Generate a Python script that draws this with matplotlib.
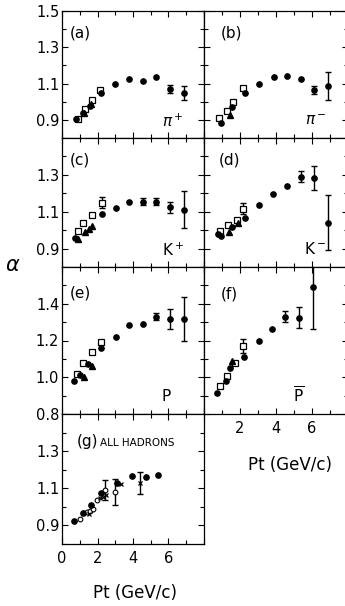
import numpy as np
import matplotlib
matplotlib.use("Agg")
import matplotlib.pyplot as plt
from matplotlib.ticker import FixedLocator, FuncFormatter, NullFormatter

# ---- (a) pi+ ----
pip_circ_pt = [0.8, 1.2, 1.55, 2.2, 3.0, 3.8, 4.55, 5.3, 6.1, 6.85]
pip_circ_a = [0.905, 0.94, 0.975, 1.05, 1.097, 1.125, 1.115, 1.135, 1.07, 1.047]
pip_circ_e = [0, 0, 0, 0, 0, 0, 0, 0, 0.022, 0.04]
pip_sq_pt = [0.9, 1.3, 1.68, 2.13]
pip_sq_a = [0.905, 0.96, 1.01, 1.065]
pip_tri_pt = [1.25, 1.65]
pip_tri_a = [0.94, 0.985]

# ---- (b) pi- ----
pim_circ_pt = [0.95, 1.55, 2.28, 3.05, 3.9, 4.6, 5.4, 6.1, 6.9]
pim_circ_a = [0.88, 0.97, 1.047, 1.097, 1.135, 1.14, 1.125, 1.065, 1.085]
pim_circ_e = [0, 0, 0, 0, 0, 0, 0, 0.02, 0.077]
pim_sq_pt = [0.85, 1.3, 1.6, 2.18]
pim_sq_a = [0.91, 0.95, 0.997, 1.074]
pim_tri_pt = [1.45]
pim_tri_a = [0.925]

# ---- (c) K+ ----
kp_circ_pt = [0.73, 2.25, 3.03, 3.8, 4.55, 5.3, 6.1, 6.85]
kp_circ_a = [0.96, 1.09, 1.12, 1.155, 1.155, 1.155, 1.125, 1.11]
kp_circ_e = [0, 0, 0, 0, 0.02, 0.02, 0.03, 0.1]
kp_sq_pt = [0.9, 1.18, 1.68, 2.25]
kp_sq_a = [0.995, 1.04, 1.08, 1.15]
kp_sq_e = [0, 0, 0, 0.03]
kp_tri_pt = [0.9, 1.3, 1.5, 1.68]
kp_tri_a = [0.95, 0.99, 1.005, 1.02]

# ---- (d) K- ----
km_circ_pt = [0.78, 0.95, 1.55, 2.3, 3.05, 3.85, 4.6, 5.4, 6.1, 6.9]
km_circ_a = [0.98, 0.97, 1.015, 1.068, 1.135, 1.195, 1.24, 1.29, 1.285, 1.04]
km_circ_e = [0, 0, 0, 0, 0, 0, 0, 0.03, 0.065, 0.15]
km_sq_pt = [0.9, 1.33, 1.82, 2.18]
km_sq_a = [0.998, 1.03, 1.055, 1.115]
km_sq_e = [0, 0, 0, 0.03]
km_tri_pt = [1.4, 1.9]
km_tri_a = [0.99, 1.04]

# ---- (e) p ----
p_circ_pt = [0.67, 1.0, 1.46, 2.2, 3.03, 3.78, 4.55, 5.3, 6.07, 6.85]
p_circ_a = [0.98, 1.01, 1.07, 1.16, 1.22, 1.285, 1.29, 1.33, 1.315, 1.315]
p_circ_e = [0, 0, 0, 0, 0, 0, 0, 0.02, 0.055, 0.12]
p_sq_pt = [0.84, 1.18, 1.68, 2.2]
p_sq_a = [1.02, 1.08, 1.135, 1.19]
p_tri_pt = [1.23, 1.7]
p_tri_a = [1.0, 1.06]

# ---- (f) pbar ----
pb_circ_pt = [0.7, 1.2, 1.45, 2.2, 3.05, 3.8, 4.5, 5.3, 6.05]
pb_circ_a = [0.915, 0.98, 1.05, 1.11, 1.195, 1.26, 1.33, 1.325, 1.49]
pb_circ_e = [0, 0, 0, 0, 0, 0, 0.03, 0.055, 0.23]
pb_sq_pt = [0.9, 1.28, 1.72, 2.15]
pb_sq_a = [0.955, 1.005, 1.08, 1.17]
pb_sq_e = [0, 0, 0, 0.04]
pb_tri_pt = [1.55]
pb_tri_a = [1.09]

# ---- (g) all hadrons ----
all_circ_pt = [0.67, 1.18, 1.63, 2.19, 3.09, 3.93, 4.72, 5.39]
all_circ_a = [0.925, 0.965, 1.012, 1.074, 1.128, 1.166, 1.16, 1.171]
all_open_pt = [1.0, 1.4, 1.55, 1.74, 1.97, 2.42, 2.98]
all_open_a = [0.935, 0.97, 0.978, 0.99, 1.035, 1.09, 1.08]
all_open_e = [0, 0, 0, 0, 0, 0.055, 0.07]
all_x_pt = [1.5, 2.13, 2.3, 2.5, 3.3, 4.38]
all_x_a = [0.96, 1.047, 1.055, 1.063, 1.125, 1.128]
all_x_e = [0, 0, 0, 0, 0, 0.06]

plt.rcParams["font.family"] = ["DejaVu Sans"]
plt.rcParams["mathtext.fontset"] = "dejavusans"

W, H = 345.0, 606.0
fig = plt.figure(figsize=(W / 100, H / 100), dpi=100)


def px_axes(x0, x1, y0, y1):
    return fig.add_axes([x0 / W, 1 - y1 / H, (x1 - x0) / W, (y1 - y0) / H])


def style(ax, ylim, ymajor, yminor, left_labels, xlabels):
    ax.set_xlim(0, 8)
    ax.set_ylim(*ylim)
    for s in ax.spines.values():
        s.set_linewidth(0.9)
    ax.xaxis.set_major_locator(FixedLocator([0, 2, 4, 6, 8]))
    ax.xaxis.set_minor_locator(FixedLocator([1, 3, 5, 7]))
    ax.yaxis.set_major_locator(FixedLocator(ymajor))
    ax.yaxis.set_minor_locator(FixedLocator(yminor))
    ax.tick_params(which="both", direction="in", top=True, right=True,
                   width=0.8, labelsize=10.5, colors="black")
    ax.tick_params(which="major", length=4.0)
    ax.tick_params(which="minor", length=3.2)
    ax.tick_params(axis="y", pad=2)
    ax.tick_params(axis="x", pad=5)
    if left_labels:
        ax.yaxis.set_major_formatter(FuncFormatter(lambda v, p: f"{v:.1f}"))
    else:
        ax.yaxis.set_major_formatter(NullFormatter())
    if xlabels is None:
        ax.xaxis.set_major_formatter(NullFormatter())
    else:
        ax.xaxis.set_major_formatter(
            FuncFormatter(lambda v, p: f"{int(v)}" if int(v) in xlabels else ""))


def draw_series(ax, pt, a, err, **kw):
    pt, a = np.asarray(pt), np.asarray(a)
    ax.plot(pt, a, linestyle="none", zorder=3, **kw)
    if err is not None:
        err = np.asarray(err)
        m = err > 0
        ax.errorbar(pt[m], a[m], yerr=err[m], fmt="none", ecolor="black",
                    elinewidth=1.0, capsize=2.0, capthick=1.0, zorder=2)


CIRC = dict(marker="o", markersize=3.8, color="black")
SQ = dict(marker="s", markersize=4.6, markerfacecolor="white",
          markeredgecolor="black", markeredgewidth=0.9)
TRI = dict(marker="^", markersize=4.0, color="black")
OPEN = dict(marker="o", markersize=3.4, markerfacecolor="white",
            markeredgecolor="black", markeredgewidth=0.8)
XM = dict(marker="x", markersize=3.4, color="black", markeredgewidth=0.9)

LX0, LX1, RX0, RX1 = 62, 204, 204, 348
rows = [(11, 138), (138, 267), (267, 414), (414, 544)]

lim7 = (0.8, 1.5)
maj_a = [0.9, 1.1, 1.3, 1.5]
maj_c = [0.9, 1.1, 1.3]
min_7 = [0.8, 1.0, 1.2, 1.4]

# (a)
ax = px_axes(LX0, LX1, *rows[0])
style(ax, lim7, maj_a, min_7, True, None)
draw_series(ax, pip_sq_pt, pip_sq_a, None, **SQ)
draw_series(ax, pip_tri_pt, pip_tri_a, None, **TRI)
draw_series(ax, pip_circ_pt, pip_circ_a, pip_circ_e, **CIRC)
ax.text(0.127, 0.827, "(a)", transform=ax.transAxes, fontsize=11, ha="center", va="center")
ax.text(0.78, 0.13, r"$\pi^+$", transform=ax.transAxes, fontsize=11, ha="center", va="center")

# (b)
ax = px_axes(RX0, RX1, *rows[0])
style(ax, lim7, maj_a, min_7, False, None)
draw_series(ax, pim_sq_pt, pim_sq_a, None, **SQ)
draw_series(ax, pim_tri_pt, pim_tri_a, None, **TRI)
draw_series(ax, pim_circ_pt, pim_circ_a, pim_circ_e, **CIRC)
ax.text(0.194, 0.827, "(b)", transform=ax.transAxes, fontsize=11, ha="center", va="center")
ax.text(0.78, 0.14, r"$\pi^-$", transform=ax.transAxes, fontsize=11, ha="center", va="center")

# (c)
ax = px_axes(LX0, LX1, *rows[1])
style(ax, lim7, maj_c, min_7, True, None)
draw_series(ax, kp_sq_pt, kp_sq_a, kp_sq_e, **SQ)
draw_series(ax, kp_tri_pt, kp_tri_a, None, **TRI)
draw_series(ax, kp_circ_pt, kp_circ_a, kp_circ_e, **CIRC)
ax.text(0.127, 0.83, "(c)", transform=ax.transAxes, fontsize=11, ha="center", va="center")
ax.text(0.78, 0.13, r"$\mathrm{K}^+$", transform=ax.transAxes, fontsize=11, ha="center", va="center")

# (d)
ax = px_axes(RX0, RX1, *rows[1])
style(ax, lim7, maj_c, min_7, False, None)
draw_series(ax, km_sq_pt, km_sq_a, km_sq_e, **SQ)
draw_series(ax, km_tri_pt, km_tri_a, None, **TRI)
draw_series(ax, km_circ_pt, km_circ_a, km_circ_e, **CIRC)
ax.text(0.18, 0.83, "(d)", transform=ax.transAxes, fontsize=11, ha="center", va="center")
ax.text(0.77, 0.14, r"$\mathrm{K}^-$", transform=ax.transAxes, fontsize=11, ha="center", va="center")

# (e)
ax = px_axes(LX0, LX1, *rows[2])
style(ax, (0.8, 1.6), [0.8, 1.0, 1.2, 1.4], [0.9, 1.1, 1.3, 1.5], True, None)
draw_series(ax, p_sq_pt, p_sq_a, None, **SQ)
draw_series(ax, p_tri_pt, p_tri_a, None, **TRI)
draw_series(ax, p_circ_pt, p_circ_a, p_circ_e, **CIRC)
ax.text(0.127, 0.823, "(e)", transform=ax.transAxes, fontsize=11, ha="center", va="center")
ax.text(0.732, 0.116, "P", transform=ax.transAxes, fontsize=11, ha="center", va="center")

# (f)
ax = px_axes(RX0, RX1, *rows[2])
style(ax, (0.8, 1.6), [0.8, 1.0, 1.2, 1.4], [0.9, 1.1, 1.3, 1.5], False, {2, 4, 6})
draw_series(ax, pb_sq_pt, pb_sq_a, pb_sq_e, **SQ)
draw_series(ax, pb_tri_pt, pb_tri_a, None, **TRI)
draw_series(ax, pb_circ_pt, pb_circ_a, pb_circ_e, **CIRC)
ax.text(0.174, 0.816, "(f)", transform=ax.transAxes, fontsize=11, ha="center", va="center")
ax.text(0.66, 0.125, r"$\overline{\mathrm{P}}$", transform=ax.transAxes, fontsize=11,
        ha="center", va="center")

# (g)
ax = px_axes(LX0, LX1, *rows[3])
style(ax, lim7, maj_c, min_7, True, {0, 2, 4, 6})
draw_series(ax, all_open_pt, all_open_a, all_open_e, **OPEN)
draw_series(ax, all_x_pt, all_x_a, all_x_e, **XM)
draw_series(ax, all_circ_pt, all_circ_a, None, **CIRC)
ax.text(0.106, 0.785, "(g)", transform=ax.transAxes, fontsize=11, ha="left", va="center")
ax.text(0.268, 0.78, "ALL HADRONS", transform=ax.transAxes, fontsize=7.5, ha="left", va="center")

fig.text(290 / W, 1 - 465 / H, "Pt (GeV/c)", fontsize=12, ha="center", va="center")
fig.text(135 / W, 1 - 593 / H, "Pt (GeV/c)", fontsize=12, ha="center", va="center")
fig.text(13 / W, 1 - 265 / H, r"$\alpha$", fontsize=15, ha="center", va="center")

fig.savefig("out.png", dpi=100)
